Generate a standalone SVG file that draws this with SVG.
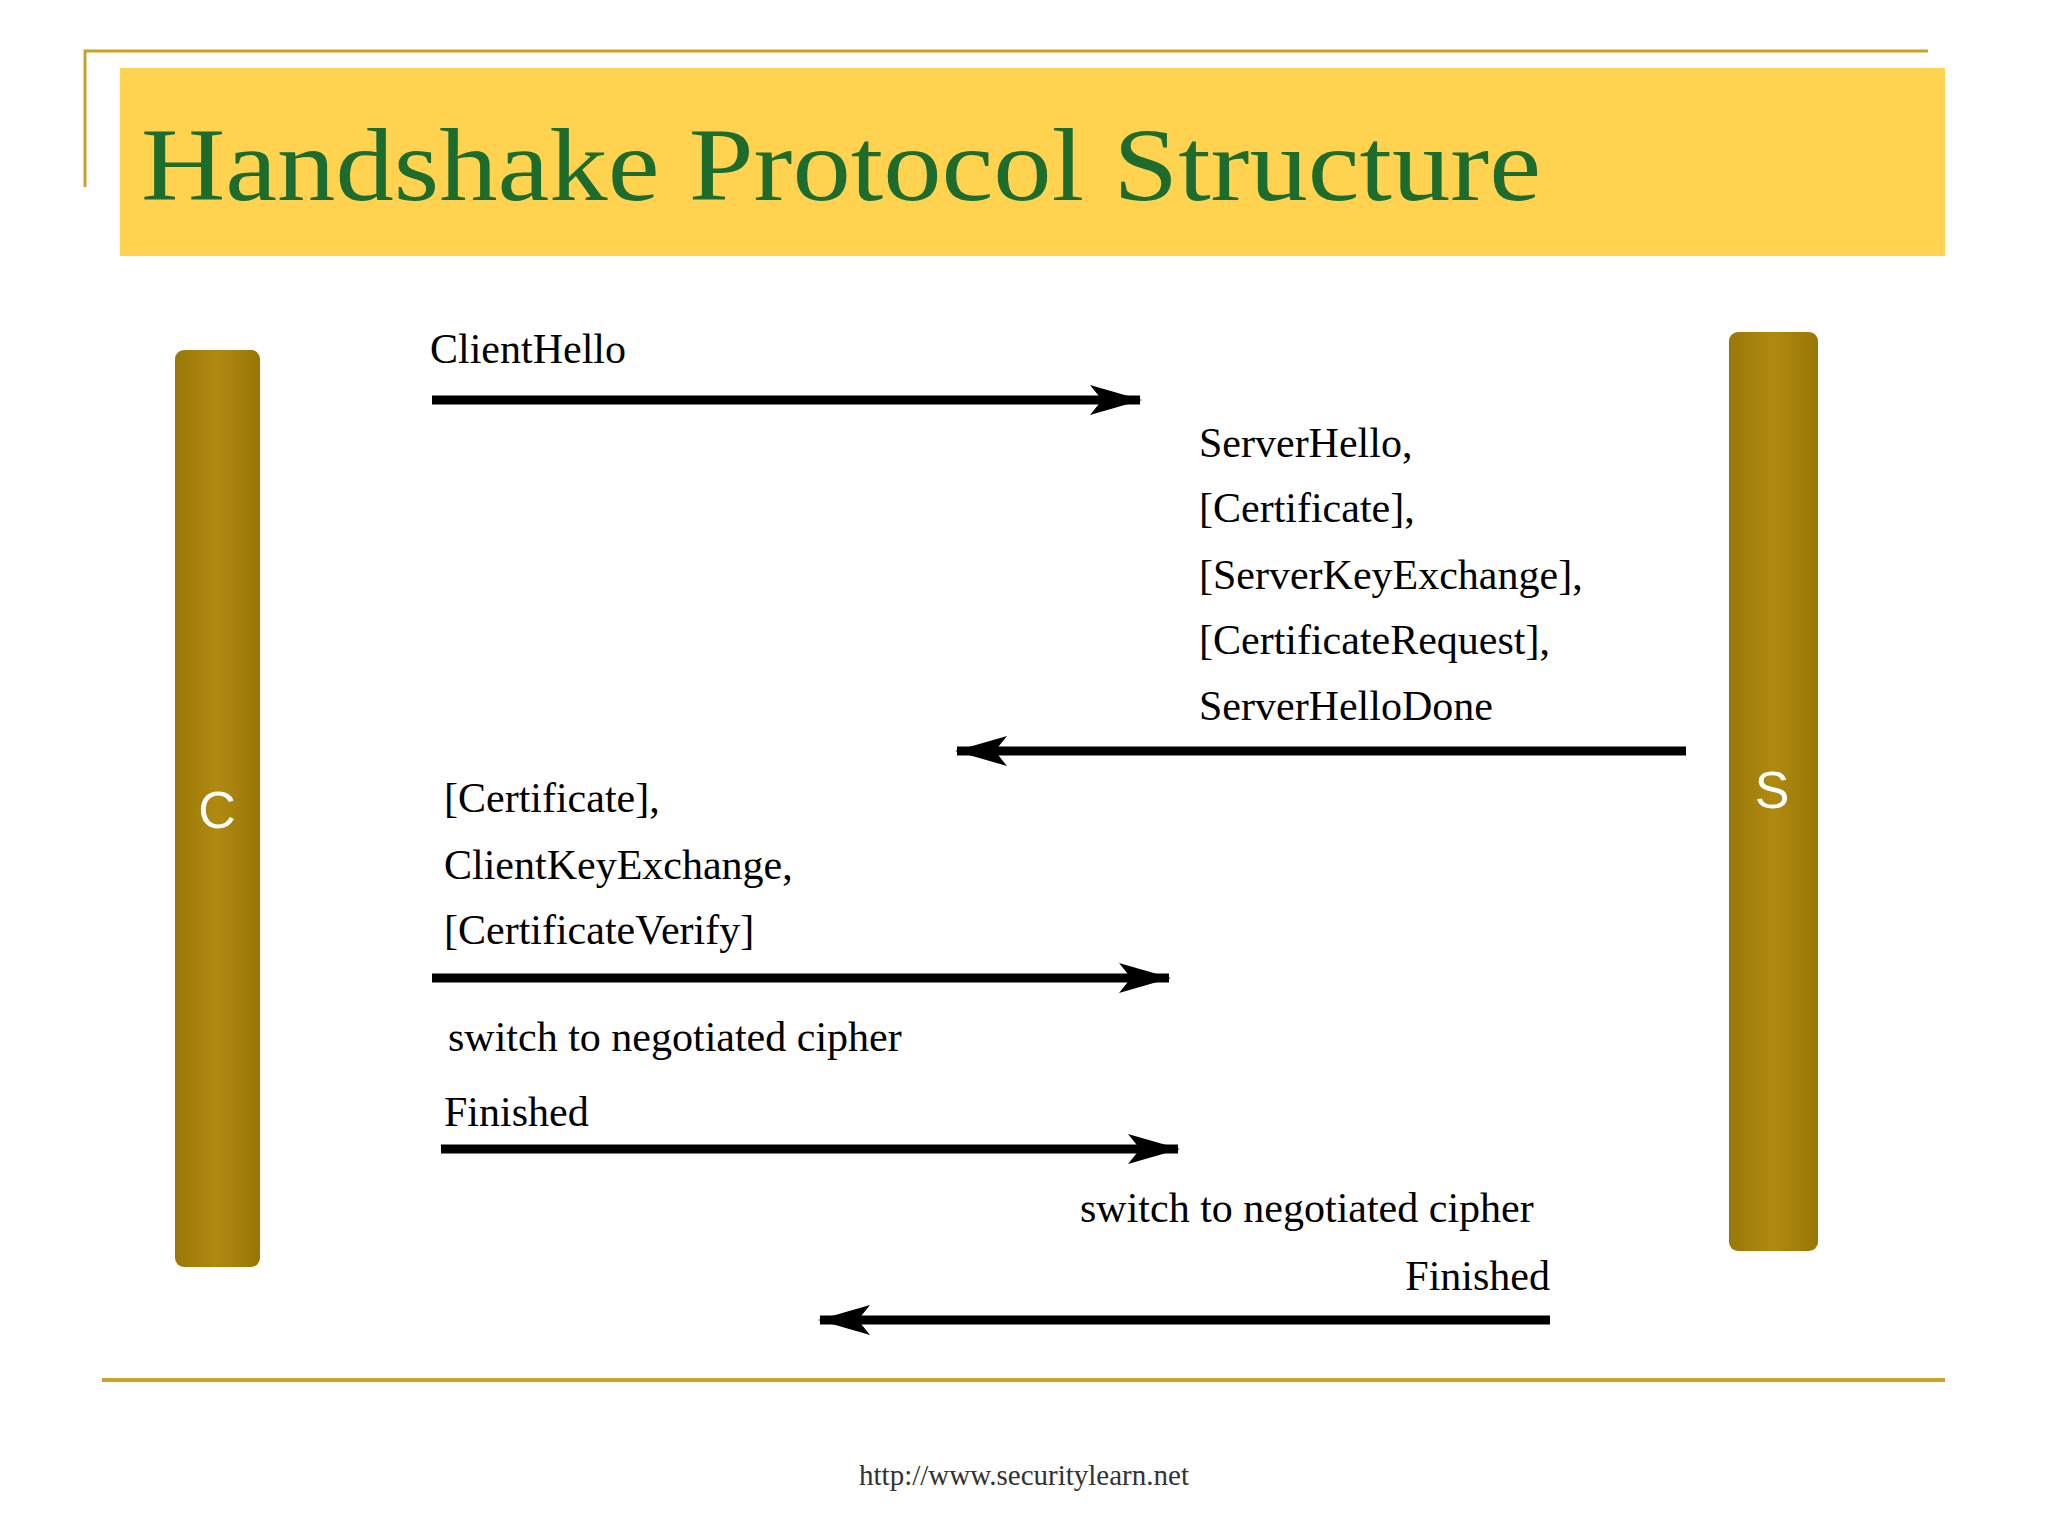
<svg xmlns="http://www.w3.org/2000/svg" width="2048" height="1536" viewBox="0 0 2048 1536">
<style>
.t{font-family:"Liberation Serif",serif;font-size:42px;fill:#000}
.ln{stroke:#000;stroke-width:9;fill:none}
.bar{fill:url(#g)}
.lbl{font-family:"Liberation Sans",Arial,sans-serif;font-size:52px;fill:#fff;text-anchor:middle}
</style>
<defs>
<linearGradient id="g" x1="0" x2="1" y1="0" y2="0">
<stop offset="0" stop-color="#9a7808"/><stop offset="0.5" stop-color="#b08a10"/><stop offset="1" stop-color="#987506"/>
</linearGradient>
<marker id="a" viewBox="0 0 52 34" refX="50" refY="17" markerWidth="52" markerHeight="34" markerUnits="userSpaceOnUse" orient="auto">
<polygon points="0,2 52,17 0,32 12,17" fill="#000"/>
</marker>
</defs>
<rect width="2048" height="1536" fill="#fff"/>
<g id="frame">
<path d="M85,187 V51 H1928" stroke="#c9a227" stroke-width="3" fill="none"/>
<rect x="120" y="68" width="1825" height="188" fill="#ffd24f"/>
<text x="141" y="200" font-family="Liberation Serif,serif" font-size="104" fill="#1e6b2e" textLength="1400" lengthAdjust="spacingAndGlyphs">Handshake Protocol Structure</text>
<line x1="102" y1="1380" x2="1945" y2="1380" stroke="#c9a227" stroke-width="4"/>
<text x="1024" y="1485" font-family="Liberation Serif,serif" font-size="29" fill="#333" text-anchor="middle">http://www.securitylearn.net</text>
</g>
<g id="client">
<rect class="bar" x="175" y="350" width="85" height="917" rx="9"/>
<text class="lbl" x="217" y="828">C</text>
</g>
<g id="server">
<rect class="bar" x="1729" y="332" width="89" height="919" rx="9"/>
<text class="lbl" x="1772" y="808">S</text>
</g>
<g id="connectors">
<line class="ln" x1="432" y1="400" x2="1140" y2="400" marker-end="url(#a)"/>
<line class="ln" x1="1686" y1="751" x2="957" y2="751" marker-end="url(#a)"/>
<line class="ln" x1="432" y1="978" x2="1169" y2="978" marker-end="url(#a)"/>
<line class="ln" x1="441" y1="1149" x2="1178" y2="1149" marker-end="url(#a)"/>
<line class="ln" x1="1550" y1="1320" x2="820" y2="1320" marker-end="url(#a)"/>
</g>
<g id="labels">
<text class="t" x="430" y="363">ClientHello</text>
<text class="t" x="1199" y="457">ServerHello,</text>
<text class="t" x="1199" y="522">[Certificate],</text>
<text class="t" x="1199" y="589">[ServerKeyExchange],</text>
<text class="t" x="1199" y="654">[CertificateRequest],</text>
<text class="t" x="1199" y="720">ServerHelloDone</text>
<text class="t" x="444" y="812">[Certificate],</text>
<text class="t" x="444" y="879">ClientKeyExchange,</text>
<text class="t" x="444" y="944">[CertificateVerify]</text>
<text class="t" x="448" y="1051">switch to negotiated cipher</text>
<text class="t" x="444" y="1126">Finished</text>
<text class="t" x="1080" y="1222">switch to negotiated cipher</text>
<text class="t" x="1550" y="1290" text-anchor="end">Finished</text>
</g>
</svg>
